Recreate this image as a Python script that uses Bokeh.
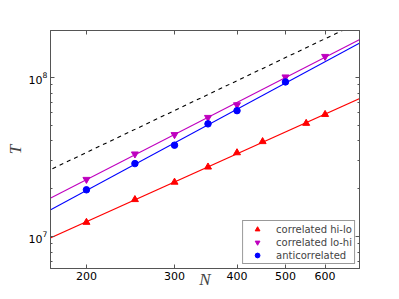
import numpy as np
from bokeh.plotting import figure
from bokeh.models import (LogAxis, FixedTicker, BasicTickFormatter, LogTickFormatter,
                          Legend, LegendItem, Range1d)
from bokeh.embed import file_html
from bokeh.resources import INLINE

# ---- data ----
N_hilo = [200, 250, 300, 350, 400, 450, 550, 600]
T_hilo = [1.23e7, 1.71e7, 2.2e7, 2.74e7, 3.37e7, 3.96e7, 5.16e7, 5.87e7]
N_lohi = [200, 250, 300, 350, 400, 500, 600]
T_lohi = [2.29e7, 3.31e7, 4.38e7, 5.62e7, 6.75e7, 1.01e8, 1.36e8]
N_anti = [200, 250, 300, 350, 400, 500]
T_anti = [1.97e7, 2.88e7, 3.76e7, 5.12e7, 6.2e7, 9.4e7]
ref_N = [160, 720]          # dashed guide line
ref_T = [2.42e7, 2.31e8]
x_ticks = [200, 300, 400, 500, 600]
y_ticks = [1e7, 1e8]
y_minor = [7e6, 8e6, 9e6, 2e7, 3e7, 4e7, 5e7, 6e7, 7e7, 8e7, 9e7, 2e8]
x_lo, x_hi = 169.5, 703
y_lo, y_hi = 6.3e6, 1.98e8

RED = "#ff0000"
MAG = "#bf00bf"
BLUE = "#0000ff"
FRAME = "#555555"

p = figure(width=391, height=291, x_axis_type="log", y_axis_type="log",
           x_range=Range1d(x_lo, x_hi), y_range=Range1d(y_lo, y_hi),
           output_backend="svg", toolbar_location=None,
           min_border_left=50, min_border_right=32, min_border_top=30,
           min_border_bottom=10)
p.grid.visible = False
p.outline_line_color = FRAME
p.outline_line_width = 1
p.background_fill_color = "white"
p.border_fill_color = "white"


def fit_line(N, T):
    k, c = np.polyfit(np.log10(N), np.log10(T), 1)
    xs = np.array([x_lo * 0.95, x_hi * 1.05])
    return xs, 10 ** (c + k * np.log10(xs))


for N, T, col in [(N_hilo, T_hilo, RED), (N_lohi, T_lohi, MAG), (N_anti, T_anti, BLUE)]:
    xs, ys = fit_line(N, T)
    p.line(xs, ys, line_color=col, line_width=1.1)

p.line(ref_N, ref_T, line_color="black", line_dash="4 4", line_width=1.1)

r1 = p.scatter(N_hilo, T_hilo, marker="triangle", size=7, color=RED)
r2 = p.scatter(N_lohi, T_lohi, marker="inverted_triangle", size=7, color=MAG)
r3 = p.scatter(N_anti, T_anti, marker="circle", size=6.5, color=BLUE)


def style_axis(ax, ticks, labels=True):
    ax.axis_line_color = FRAME
    ax.major_tick_line_color = FRAME
    ax.minor_tick_line_color = FRAME
    ax.major_tick_in = 4
    ax.major_tick_out = 0
    ax.minor_tick_in = 2
    ax.minor_tick_out = 0
    ax.major_label_text_font = "DejaVu Sans"
    ax.major_label_text_font_size = "11px"
    ax.major_label_text_color = "black"
    if not labels:
        ax.major_label_overrides = {t: "" for t in ticks}
        ax.major_label_standoff = 0


xa = p.xaxis[0]
xa.ticker = FixedTicker(ticks=x_ticks, minor_ticks=[])
xa.formatter = BasicTickFormatter()
style_axis(xa, x_ticks)
xa.major_label_standoff = 3
xa.axis_label = "N"
xa.axis_label_text_font = "Liberation Serif"
xa.axis_label_text_font_style = "italic"
xa.axis_label_text_font_size = "17px"
xa.axis_label_standoff = -13

ya = p.yaxis[0]
ya.ticker = FixedTicker(ticks=y_ticks, minor_ticks=y_minor)
ya.formatter = LogTickFormatter()
style_axis(ya, y_ticks)
ya.major_label_standoff = 3
ya.axis_label = "T"
ya.axis_label_text_font = "Liberation Serif"
ya.axis_label_text_font_style = "italic"
ya.axis_label_text_font_size = "17px"
ya.axis_label_standoff = 1

top = LogAxis(ticker=FixedTicker(ticks=x_ticks, minor_ticks=[]))
style_axis(top, x_ticks, labels=False)
p.add_layout(top, "above")

right = LogAxis(ticker=FixedTicker(ticks=y_ticks, minor_ticks=y_minor))
style_axis(right, y_ticks, labels=False)
p.add_layout(right, "right")

legend = Legend(items=[
    LegendItem(label="correlated hi-lo", renderers=[r1]),
    LegendItem(label="correlated lo-hi", renderers=[r2]),
    LegendItem(label="anticorrelated", renderers=[r3]),
], location="bottom_right")
legend.label_text_font = "DejaVu Sans"
legend.label_text_font_size = "10px"
legend.glyph_width = 24
legend.glyph_height = 12
legend.label_height = 12
legend.label_standoff = 7
legend.spacing = 1
legend.padding = 2
legend.margin = 4
legend.border_line_color = "#333333"
legend.border_line_width = 1
legend.background_fill_alpha = 1
p.add_layout(legend, "center")

open("out.html", "w").write(file_html(p, INLINE))
